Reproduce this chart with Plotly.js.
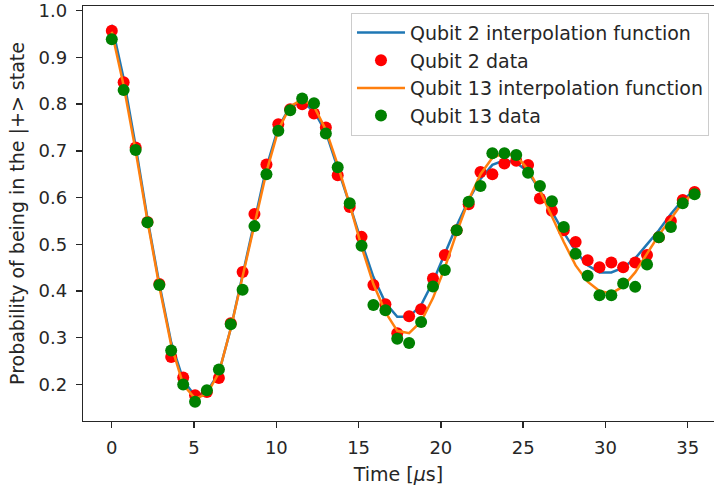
<!DOCTYPE html>
<html>
<head>
<meta charset="utf-8">
<script src="https://cdn.plot.ly/plotly-3.0.1.min.js"></script>
<style>
html,body{margin:0;padding:0;overflow:hidden;background:#fff;}
#chart{width:714px;height:488px;}
</style>
</head>
<body>
<div id="chart"></div>
<script>
// Time axis (microseconds)
const times = [0, 0.72, 1.45, 2.17, 2.89, 3.61, 4.34, 5.06, 5.78, 6.51,
  7.23, 7.95, 8.67, 9.40, 10.12, 10.84, 11.57, 12.29, 13.01, 13.73,
  14.46, 15.18, 15.90, 16.63, 17.35, 18.07, 18.80, 19.52, 20.24, 20.96,
  21.69, 22.41, 23.13, 23.86, 24.58, 25.30, 26.02, 26.75, 27.47, 28.19,
  28.92, 29.64, 30.36, 31.08, 31.81, 32.53, 33.25, 33.98, 34.70, 35.42];

// Qubit 2 interpolation function
const q2Fit = [0.970, 0.855, 0.710, 0.555, 0.415, 0.290, 0.210, 0.175, 0.185, 0.225,
  0.320, 0.435, 0.555, 0.665, 0.750, 0.795, 0.805, 0.785, 0.740, 0.665,
  0.585, 0.505, 0.430, 0.375, 0.345, 0.345, 0.370, 0.420, 0.480, 0.540,
  0.595, 0.640, 0.670, 0.680, 0.675, 0.655, 0.615, 0.570, 0.525, 0.485,
  0.455, 0.440, 0.440, 0.450, 0.470, 0.500, 0.530, 0.565, 0.595, 0.615];

// Qubit 2 data
const q2Data = [0.957, 0.847, 0.707, 0.548, 0.415, 0.259, 0.215, 0.177, 0.184, 0.214,
  0.331, 0.441, 0.565, 0.671, 0.757, 0.789, 0.800, 0.780, 0.750, 0.648,
  0.580, 0.516, 0.413, 0.372, 0.310, 0.346, 0.361, 0.427, 0.477, 0.530,
  0.586, 0.655, 0.650, 0.673, 0.679, 0.670, 0.598, 0.572, 0.530, 0.505,
  0.466, 0.451, 0.461, 0.451, 0.461, 0.477, 0.515, 0.550, 0.595, 0.612];

// Qubit 13 interpolation function
const q13Fit = [0.955, 0.840, 0.700, 0.550, 0.410, 0.285, 0.200, 0.170, 0.180, 0.225,
  0.320, 0.430, 0.545, 0.655, 0.745, 0.795, 0.810, 0.795, 0.745, 0.670,
  0.585, 0.495, 0.415, 0.355, 0.315, 0.310, 0.335, 0.385, 0.450, 0.525,
  0.595, 0.650, 0.685, 0.695, 0.690, 0.660, 0.615, 0.560, 0.505, 0.455,
  0.420, 0.400, 0.395, 0.410, 0.440, 0.480, 0.520, 0.555, 0.590, 0.610];

// Qubit 13 data
const q13Data = [0.939, 0.830, 0.702, 0.547, 0.413, 0.273, 0.200, 0.163, 0.188, 0.232,
  0.329, 0.403, 0.539, 0.650, 0.743, 0.787, 0.812, 0.802, 0.737, 0.665,
  0.588, 0.497, 0.370, 0.359, 0.298, 0.289, 0.334, 0.410, 0.445, 0.530,
  0.591, 0.625, 0.695, 0.695, 0.691, 0.653, 0.625, 0.592, 0.537, 0.480,
  0.433, 0.391, 0.391, 0.416, 0.409, 0.457, 0.515, 0.537, 0.588, 0.607];

const seriesNames = ['Qubit 2 interpolation function', 'Qubit 2 data',
  'Qubit 13 interpolation function', 'Qubit 13 data'];

const FONT = 'DejaVu Sans, Arial, sans-serif';
const INK = '#262626';

const traces = [
  {x: times, y: q2Fit, name: seriesNames[0], mode: 'lines',
   line: {color: '#1f77b4', width: 2.5}},
  {x: times, y: q2Data, name: seriesNames[1], mode: 'markers',
   marker: {color: '#ff0000', size: 12}},
  {x: times, y: q13Fit, name: seriesNames[2], mode: 'lines',
   line: {color: '#ff7f0e', width: 2.5}},
  {x: times, y: q13Data, name: seriesNames[3], mode: 'markers',
   marker: {color: '#008000', size: 12}}
];

const layout = {
  width: 714, height: 488,
  margin: {l: 83, r: 0, t: 6, b: 67, pad: 0},
  paper_bgcolor: '#fff', plot_bgcolor: '#fff',
  font: {family: FONT, size: 19, color: INK},
  showlegend: true,
  legend: {x: 0.4247, y: 0.984, xanchor: 'left', yanchor: 'top',
    bgcolor: 'rgba(255,255,255,0.8)', bordercolor: '#cccccc', borderwidth: 1,
    font: {family: FONT, size: 19, color: INK},
    traceorder: 'normal', itemwidth: 48},
  xaxis: {range: [-1.75, 36.6], tickvals: [0, 5, 10, 15, 20, 25, 30, 35],
    showgrid: false, zeroline: false, showline: true, mirror: true,
    linecolor: INK, linewidth: 1.3, ticks: 'outside', ticklen: 6, tickwidth: 1.3,
    tickcolor: INK, ticklabelstandoff: 4, ticklabeloverflow: 'allow',
    tickfont: {family: FONT, size: 18, color: INK},
    title: {text: 'Time [<i>μ</i>s]', font: {family: FONT, size: 19, color: INK}, standoff: 10}},
  yaxis: {range: [0.122, 1.010], tickvals: [0.2, 0.3, 0.4, 0.5, 0.6, 0.7, 0.8, 0.9, 1.0],
    tickformat: '.1f',
    showgrid: false, zeroline: false, showline: true, mirror: false,
    linecolor: INK, linewidth: 1.3, ticks: 'outside', ticklen: 6, tickwidth: 1.3,
    tickcolor: INK, ticklabelstandoff: 5, ticklabeloverflow: 'allow',
    tickfont: {family: FONT, size: 18, color: INK},
    title: {text: 'Probability of being in the |+> state', font: {family: FONT, size: 19, color: INK}, standoff: 8}}
};

Plotly.newPlot('chart', traces, layout, {displayModeBar: false, staticPlot: true});
</script>
</body>
</html>
